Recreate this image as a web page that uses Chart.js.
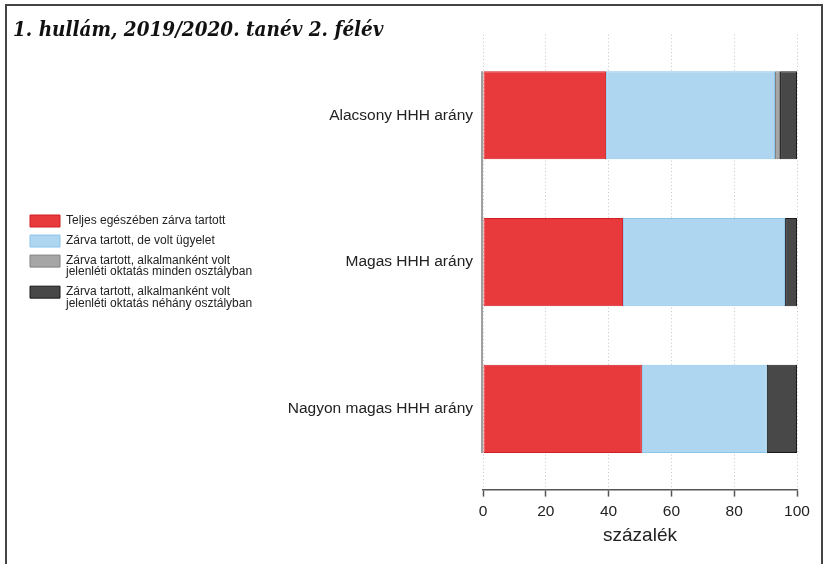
<!DOCTYPE html>
<html>
<head>
<meta charset="utf-8">
<script src="https://cdn.jsdelivr.net/npm/chart.js@4.4.1/dist/chart.umd.min.js"></script>
<style>
  body { margin: 0; background: #fff; }
  #frame { position: absolute; left: 5px; top: 4px; width: 814px; height: 600px; border: 2px solid #444; border-bottom: none; }
  #wrap { position: absolute; left: 0; top: 0; width: 826px; height: 564px; }
</style>
</head>
<body>
<div id="frame"></div>
<div id="wrap"><canvas id="canva"></canvas></div>
<script>
var categories = ['Alacsony HHH arány', 'Magas HHH arány', 'Nagyon magas HHH arány'];
var seriesNames = [
  ['Teljes egészében zárva tartott'],
  ['Zárva tartott, de volt ügyelet'],
  ['Zárva tartott, alkalmanként volt', 'jelenléti oktatás minden osztályban'],
  ['Zárva tartott, alkalmanként volt', 'jelenléti oktatás néhány osztályban']
];
var closedFully = [39.2, 44.6, 50.6];
var closedWithDuty = [53.8, 51.6, 39.8];
var partlyAllClasses = [1.6, 0, 0];
var partlySomeClasses = [5.4, 3.8, 9.6];
var xTicks = [0, 20, 40, 60, 80, 100];

var fills = ['#E8393D', '#AED6F1', '#A6A6A6', '#484848'];
var borders = ['#D01F24', '#8CC4EA', '#808080', '#1a1a1a'];

var legendShift = 8;

function rows(values) {
  return values.map(function(v, i) { return { x: v, y: i }; });
}

var allSeries = [closedFully, closedWithDuty, partlyAllClasses, partlySomeClasses];
var datasets = allSeries.map(function(vals, i) {
  return {
    label: seriesNames[i].join(' '),
    data: rows(vals),
    backgroundColor: fills[i],
    borderColor: borders[i],
    borderWidth: 1,
    borderSkipped: false,
    barPercentage: 0.6,
    categoryPercentage: 1
  };
});

// y axis line only over the bars, like the original
var axisLine = {
  id: 'axisLine',
  afterLayout: function(chart) {
    chart.legend.left += legendShift;
    chart.legend.right += legendShift;
  },
  beforeDatasetsDraw: function(chart) {
    var bars = chart.getDatasetMeta(0).data;
    if (!bars.length) return;
    var first = bars[0], last = bars[bars.length - 1];
    var ctx = chart.ctx;
    var x = chart.scales.x.getPixelForValue(0);
    ctx.save();
    ctx.strokeStyle = '#a0a0a0';
    ctx.lineWidth = 2;
    ctx.beginPath();
    ctx.moveTo(x - 1, first.y - first.height / 2);
    ctx.lineTo(x - 1, last.y + last.height / 2);
    ctx.stroke();
    ctx.restore();
  }
};

new Chart(document.getElementById('canva'), {
  type: 'bar',
  data: { datasets: datasets },
  plugins: [axisLine],
  options: {
    indexAxis: 'y',
    responsive: true,
    maintainAspectRatio: false,
    animation: false,
    layout: { padding: { left: 13, right: 29, top: 18, bottom: 17 } },
    scales: {
      x: {
        type: 'linear',
        stacked: true,
        min: 0,
        max: 100,
        afterBuildTicks: function(scale) {
          scale.ticks = xTicks.map(function(v) { return { value: v }; });
        },
        ticks: { color: '#222', padding: 6, font: { family: "'Liberation Sans', Arial, sans-serif", size: 15.5 } },
        grid: {
          color: '#c4c4c4',
          tickColor: '#555',
          tickLength: 7,
          tickBorderDash: [],
          tickWidth: 1.5
        },
        border: { display: true, color: '#555', width: 1.5, dash: [1, 2.5] },
        title: {
          display: true,
          text: 'százalék',
          color: '#222',
          padding: { top: -3, bottom: 0 },
          font: { family: "'Liberation Sans', Arial, sans-serif", size: 19 }
        }
      },
      y: {
        type: 'linear',
        stacked: true,
        reverse: true,
        offset: false,
        min: -0.55,
        max: 2.55,
        afterBuildTicks: function(scale) {
          scale.ticks = categories.map(function(c, i) { return { value: i }; });
        },
        afterFit: function(scale) {
          scale.width = 470 - scale.chart.legend.width;
        },
        ticks: {
          autoSkip: false,
          color: '#222',
          padding: 10,
          font: { family: "'Liberation Sans', Arial, sans-serif", size: 15.5 },
          callback: function(v) { return categories[v]; }
        },
        grid: { display: false, drawTicks: false, offset: false },
        border: { display: false }
      }
    },
    plugins: {
      title: {
        display: true,
        align: 'start',
        text: '1. hullám, 2019/2020. tanév 2. félév',
        color: '#111',
        padding: { top: 0, bottom: -8 },
        font: { family: "'DejaVu Serif Condensed', 'DejaVu Serif', serif", size: 20.5, style: 'italic', weight: 'bold' }
      },
      legend: {
        position: 'left',
        align: 'start',
        maxWidth: 320,
        title: { display: true, text: '', padding: { top: 187, bottom: 0 }, font: { size: 1, lineHeight: 1 } },
        labels: {
          boxWidth: 30,
          boxHeight: 12,
          padding: 9,
          textAlign: 'left',
          color: '#222',
          font: { family: "'Liberation Sans', Arial, sans-serif", size: 12, lineHeight: 0.92 },
          generateLabels: function(chart) {
            return chart.data.datasets.map(function(ds, i) {
              return {
                text: seriesNames[i],
                fillStyle: ds.backgroundColor,
                strokeStyle: ds.borderColor,
                lineWidth: 1,
                hidden: false,
                datasetIndex: i,
                fontColor: '#222'
              };
            });
          }
        }
      },
      tooltip: { enabled: false }
    }
  }
});
</script>
</body>
</html>
